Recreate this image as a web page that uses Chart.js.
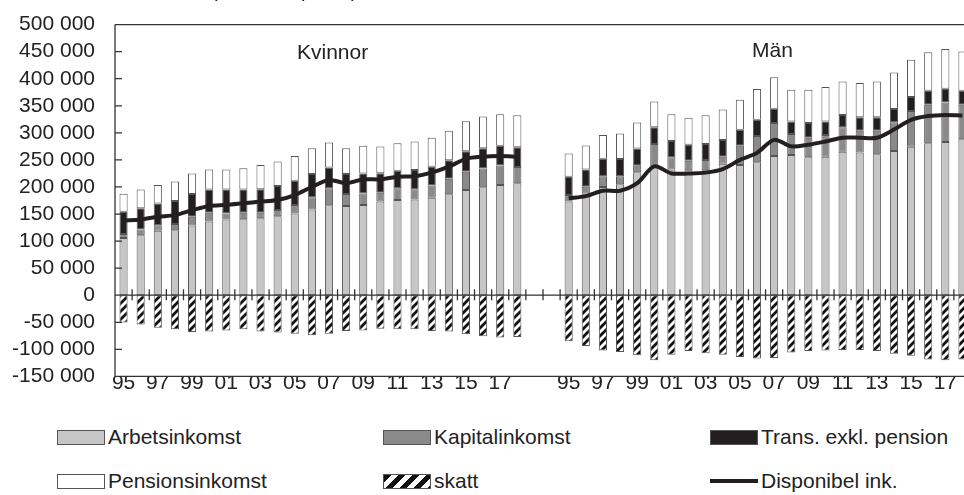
<!DOCTYPE html>
<html lang="sv">
<head>
<meta charset="UTF-8">
<title>Inkomstkomponenter kvinnor och män</title>
<script src="https://cdn.jsdelivr.net/npm/chart.js"></script>
<style>
  body { margin: 0; overflow: hidden; background: #fff; font-family: "Liberation Sans", Arial, sans-serif; color: #222; }
  #wrap { position: relative; width: 971px; height: 495px; }
  #chartBox { position: absolute; left: 0; top: -8px; width: 971px; height: 417px; }
  .txt { position: absolute; font-size: 21px; line-height: 24px; white-space: nowrap; }
  .leg { position: absolute; font-size: 21px; line-height: 24px; white-space: nowrap; display: flex; align-items: center; }
  .sw { display: inline-block; width: 46px; height: 13px; border: 1px solid #555; margin-right: 3px; }
  .ln { display: inline-block; width: 48px; height: 4px; background: #231f20; margin-right: 3px; }
</style>
</head>
<body>
<div id="wrap">
  <div id="chartBox"><canvas id="chart" width="971" height="417"></canvas></div>
  <div class="txt" style="left:211px; top:-22px; font-size:20px;">(2018 års priser)</div>
  <div class="txt" style="left:297px; top:40px;">Kvinnor</div>
  <div class="txt" style="left:752px; top:38px;">Män</div>

  <div class="leg" style="left:57px; top:425px;"><span class="sw" style="background:#c6c6c6"></span>Arbetsinkomst</div>
  <div class="leg" style="left:383px; top:425px;"><span class="sw" style="background:#8a8a8a"></span>Kapitalinkomst</div>
  <div class="leg" style="left:710px; top:425px;"><span class="sw" style="background:#231f20"></span>Trans. exkl. pension</div>
  <div class="leg" style="left:57px; top:469px;"><span class="sw" style="background:#fff"></span>Pensionsinkomst</div>
  <div class="leg" style="left:383px; top:469px;"><span class="sw" style="background:repeating-linear-gradient(135deg,#111 0 5px,#fff 5px 10px)"></span>skatt</div>
  <div class="leg" style="left:710px; top:469px;"><span class="ln"></span>Disponibel ink.</div>
</div>

<script>
// år 1995-2018
const years = ['95','96','97','98','99','00','01','02','03','04','05','06',
               '07','08','09','10','11','12','13','14','15','16','17','18'];

// Kvinnor (kr)
const arbK   = [105500,111000,119000,120000,129000,136000,140000,140500,142000,146000,151000,158500,166000,165000,166500,173000,176000,177000,180000,186500,194500,199500,203500,207000];
const kapK   = [7500,10500,10500,11500,16000,16500,11000,12000,10500,11500,15500,22500,31500,22000,21500,16500,21500,19000,22500,28500,33500,34500,36000,30000];
const transK = [41000,39000,40000,42500,42000,43000,44500,43000,43500,44500,45000,43000,38500,37000,37000,36000,32500,35500,35000,34500,38000,37500,36500,36500];
const penK   = [33500,35000,34000,36000,38000,37000,37000,39000,44500,45000,45500,47500,46000,47500,51000,49500,51000,52500,53500,54500,55500,58500,58500,59000];
const skattK = [-50500,-54000,-60000,-63000,-68000,-67000,-65000,-63000,-67000,-69000,-71000,-74000,-71000,-66000,-65000,-62000,-63000,-63000,-66000,-67000,-72000,-76000,-78000,-77000];
const dispK  = [138000,140000,145000,148000,157000,165000,167000,170000,173000,176000,185000,200000,213000,207000,214000,214000,219000,220000,226500,237500,252000,256000,257000,256000];

// Män (kr)
const arbM   = [173000,188000,200000,205000,227000,237000,232500,231000,231000,243000,240500,245500,257000,259000,255000,256000,265000,263500,260500,266500,274500,281000,283000,288000];
const kapM   = [12000,12500,20000,15000,12000,42500,22500,17500,19000,13000,35500,48500,61000,39000,36000,40000,45500,40500,43500,53000,66000,71000,73000,64000];
const transM = [34000,32000,32000,31500,32000,31000,30000,29500,29500,31000,29500,30000,26500,23000,27000,25000,22500,25000,25000,24500,25500,26000,25500,26000];
const penM   = [43000,44000,44000,47500,48000,47500,49500,50000,53000,56000,55500,57000,58000,58500,61500,63500,62000,63000,66000,67500,69000,71000,73500,72500];
const skattM = [-85000,-94000,-102000,-105000,-111000,-120000,-110000,-103000,-107000,-110000,-114000,-117000,-116000,-106000,-103000,-102000,-101000,-101000,-103000,-108000,-112000,-119000,-120000,-119000];
const dispM  = [179000,183000,193000,193000,207000,238000,225000,225000,226500,233000,250000,263000,287000,275000,278000,284000,291000,291000,291000,306000,324000,331000,333000,332000];

// två tomma kategorier mellan kvinnor och män
const gap = [null, null];
const labels = [...years, '', '', ...years];
const join = (k, m) => [...k, ...gap, ...m];

const ctx = document.getElementById('chart').getContext('2d');

// streckat mönster för skatt
function hatch() {
  const c = document.createElement('canvas');
  c.width = 8; c.height = 8;
  const g = c.getContext('2d');
  g.fillStyle = '#fff';
  g.fillRect(0, 0, 8, 8);
  g.strokeStyle = '#111';
  g.lineWidth = 2.8;
  g.beginPath();
  g.moveTo(-4, 4); g.lineTo(4, -4);
  g.moveTo(0, 8); g.lineTo(8, 0);
  g.moveTo(4, 12); g.lineTo(12, 4);
  g.stroke();
  return ctx.createPattern(c, 'repeat');
}

const fmt = v => String(Math.abs(v)).replace(/\B(?=(\d{3})+(?!\d))/g, ' ');

// axellinjer, ramar och små streck vid nollinjen
const frame = {
  id: 'frame',
  afterDatasetsDraw(chart) {
    const { ctx, chartArea: a, scales: { x, y } } = chart;
    ctx.save();
    ctx.strokeStyle = '#333';
    ctx.lineWidth = 1.3;
    ctx.beginPath();
    ctx.moveTo(a.left, a.top); ctx.lineTo(a.right, a.top);
    ctx.moveTo(a.left, a.top); ctx.lineTo(a.left, a.bottom); ctx.lineTo(a.right, a.bottom);
    const y0 = y.getPixelForValue(0);
    ctx.moveTo(a.left, y0); ctx.lineTo(a.right, y0);
    y.ticks.forEach((t, i) => {
      const py = y.getPixelForTick(i);
      ctx.moveTo(a.left, py); ctx.lineTo(a.left + 7, py);
    });
    const half = (x.getPixelForValue(1) - x.getPixelForValue(0)) / 2;
    for (let i = 1; i <= labels.length; i++) {
      const px = x.getPixelForValue(i) - half;
      ctx.moveTo(px, y0 - 6); ctx.lineTo(px, y0 + 5);
    }
    ctx.stroke();
    ctx.restore();
  }
};

const barBase = { type: 'bar', stack: 's', borderWidth: 1, borderColor: '#555', borderSkipped: false,
                  barPercentage: 0.5, categoryPercentage: 0.95, order: 1 };

new Chart(ctx, {
  data: {
    labels: labels,
    datasets: [
      { ...barBase, label: 'Arbetsinkomst', data: join(arbK, arbM), backgroundColor: '#c6c6c6' },
      { ...barBase, label: 'Kapitalinkomst', data: join(kapK, kapM), backgroundColor: '#8a8a8a' },
      { ...barBase, label: 'Trans. exkl. pension', data: join(transK, transM), backgroundColor: '#231f20' },
      { ...barBase, label: 'Pensionsinkomst', data: join(penK, penM), backgroundColor: '#ffffff' },
      { ...barBase, label: 'skatt', data: join(skattK, skattM), backgroundColor: hatch() },
      { type: 'line', label: 'Disponibel ink.', data: join(dispK, dispM), borderColor: '#231f20',
        borderWidth: 4, pointRadius: 0, tension: 0.3, spanGaps: false, order: 0 }
    ]
  },
  options: {
    responsive: false,
    animation: false,
    layout: { padding: { top: 17, right: 0, bottom: 0, left: 0 } },
    plugins: { legend: { display: false }, tooltip: { enabled: false } },
    scales: {
      x: {
        stacked: true,
        grid: { display: false, drawTicks: false },
        border: { display: false },
        afterFit: s => { s.height = 24; },
        ticks: {
          autoSkip: false, maxRotation: 0, padding: -6,
          color: '#222', font: { family: 'Liberation Sans, Arial, sans-serif', size: 21 },
          callback: (v, i) => (i % 2 === 0 ? labels[i] : '')
        }
      },
      y: {
        stacked: true,
        min: -150000, max: 500000,
        grid: { display: false, drawTicks: false },
        border: { display: false },
        afterFit: s => { s.width = 115; },
        ticks: {
          stepSize: 50000, padding: 20,
          color: '#222', font: { family: 'Liberation Sans, Arial, sans-serif', size: 21 },
          callback: v => (v < 0 ? '-' : '') + fmt(v)
        }
      }
    }
  },
  plugins: [frame]
});
</script>
</body>
</html>
